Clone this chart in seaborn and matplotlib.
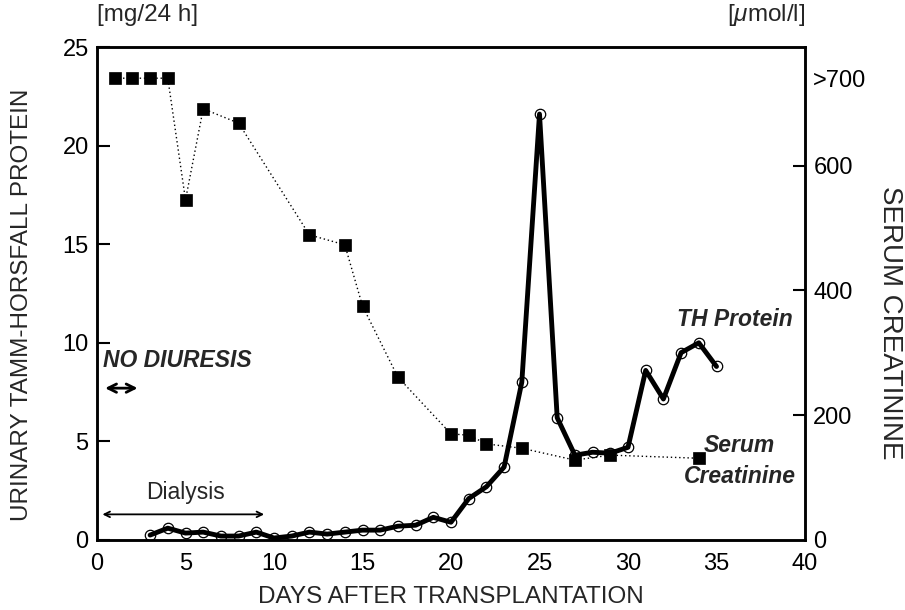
import matplotlib
matplotlib.use("Agg")
import matplotlib.pyplot as plt
import seaborn as sns
import pandas as pd

# ---- data ----
th_days = [3, 4, 5, 6, 7, 8, 9, 10, 11, 12, 13, 14, 15, 16, 17, 18, 19, 20,
           21, 22, 23, 24, 25, 26, 27, 28, 29, 30, 31, 32, 33, 34, 35]
th_values = [0.25, 0.6, 0.35, 0.4, 0.2, 0.2, 0.4, 0.1, 0.2, 0.4, 0.3, 0.4, 0.5, 0.5, 0.7, 0.75, 1.15, 0.9,
             2.1, 2.7, 3.7, 8.0, 21.6, 6.2, 4.3, 4.45, 4.4, 4.7, 8.6, 7.15, 9.5, 10.0, 8.8]

crea_days = [1, 2, 3, 4, 5, 6, 8, 12, 14, 15, 17, 20, 21, 22, 24, 27, 29, 34]
crea_values = [740, 740, 740, 740, 545, 691, 668, 489, 473, 375, 261, 170, 168, 154, 147, 128, 136, 131]

x_ticks = [0, 5, 10, 15, 20, 25, 30, 35, 40]
left_ticks = [0, 5, 10, 15, 20, 25]
right_ticks = [0, 200, 400, 600, 740]
right_tick_labels = ["0", "200", "400", "600", ">700"]

th_df = pd.DataFrame({"day": th_days, "value": th_values})
cr_df = pd.DataFrame({"day": crea_days, "value": crea_values})

sns.set_style("white")
plt.rcParams["font.family"] = ["Liberation Sans", "DejaVu Sans"]
plt.rcParams["mathtext.fontset"] = "custom"
plt.rcParams["mathtext.it"] = "Liberation Sans:italic"

fig = plt.figure(figsize=(9.05, 6.10), dpi=100)
L, R, T, B = 97, 805, 47, 540
ax = fig.add_axes([L / 905, (610 - B) / 610, (R - L) / 905, (B - T) / 610])
ax2 = ax.twinx()

TICK_FS = 17
LAB_FS = 17.5
ANN_FS = 16.5

# serum creatinine (right axis)
sns.lineplot(data=cr_df, x="day", y="value", ax=ax2, color="black",
             linestyle=(0, (1, 2)), linewidth=1.0, marker="s", markersize=8,
             markerfacecolor="black", markeredgecolor="black", markeredgewidth=0.5)

# TH protein (left axis)
sns.lineplot(data=th_df, x="day", y="value", ax=ax, color="black",
             linewidth=3.5, marker="o", markersize=7.5,
             markerfacecolor="none", markeredgecolor="black", markeredgewidth=0.9)

ax.set_zorder(ax2.get_zorder() + 1)
ax.patch.set_visible(False)

ax.set_xlim(0, 40)
ax.set_ylim(0, 25)
ax2.set_ylim(0, 790)

ax.set_xticks(x_ticks)
ax.set_yticks(left_ticks)
ax2.set_yticks(right_ticks, labels=right_tick_labels)

ax.tick_params(axis="x", direction="in", length=9, width=1.5, labelsize=TICK_FS,
               colors="black", pad=9)
ax.tick_params(axis="y", direction="in", length=9, width=1.5, labelsize=TICK_FS,
               colors="black", pad=6)
ax2.tick_params(axis="y", direction="in", length=9, width=1.5, labelsize=TICK_FS,
                colors="black", pad=6)
ax2.yaxis.get_major_ticks()[-1].tick2line.set_visible(False)
ax2.yaxis.get_major_ticks()[0].tick2line.set_visible(False)

for a in (ax, ax2):
    for s in a.spines.values():
        s.set_visible(True)
        s.set_linewidth(1.8)
        s.set_color("black")

ax.set_xlabel("")
ax.set_ylabel("")
ax2.set_ylabel("")

# axis titles
fig.text(451 / 905, 1 - 597 / 610, "DAYS AFTER TRANSPLANTATION", fontsize=LAB_FS,
         ha="center", va="center")
fig.text(22 / 905, 1 - 305 / 610, "URINARY TAMM-HORSFALL PROTEIN", fontsize=LAB_FS,
         ha="center", va="center", rotation=90)
fig.text(890 / 905, 1 - 323 / 610, "SERUM CREATININE", fontsize=20,
         ha="center", va="center", rotation=-90)

# unit labels
ax.text(0, 1.065, "[mg/24 h]", transform=ax.transAxes, ha="left", va="center", fontsize=LAB_FS)
ax.text(1, 1.065, "[$\\mu$mol/l]", transform=ax.transAxes, ha="right", va="center", fontsize=LAB_FS)

# annotations
ax.text(0.35, 9.1, "NO DIURESIS", fontsize=ANN_FS, fontweight="bold", fontstyle="italic",
        ha="left", va="center")
ax.annotate("", xy=(0.3, 7.7), xytext=(2.45, 7.7),
            arrowprops=dict(arrowstyle="<->", color="black", lw=2.0, mutation_scale=15))
ax.text(5.0, 2.4, "Dialysis", fontsize=ANN_FS, ha="center", va="center")
ax.annotate("", xy=(0.15, 1.3), xytext=(9.6, 1.3),
            arrowprops=dict(arrowstyle="<->", color="black", lw=1.3, mutation_scale=10))
ax.text(39.3, 11.2, "TH Protein", fontsize=ANN_FS, fontweight="bold", fontstyle="italic",
        ha="right", va="center")
ax.text(36.3, 4.8, "Serum", fontsize=ANN_FS, fontweight="bold", fontstyle="italic",
        ha="center", va="center")
ax.text(36.3, 3.2, "Creatinine", fontsize=ANN_FS, fontweight="bold", fontstyle="italic",
        ha="center", va="center")

fig.savefig("out.png", dpi=100)
